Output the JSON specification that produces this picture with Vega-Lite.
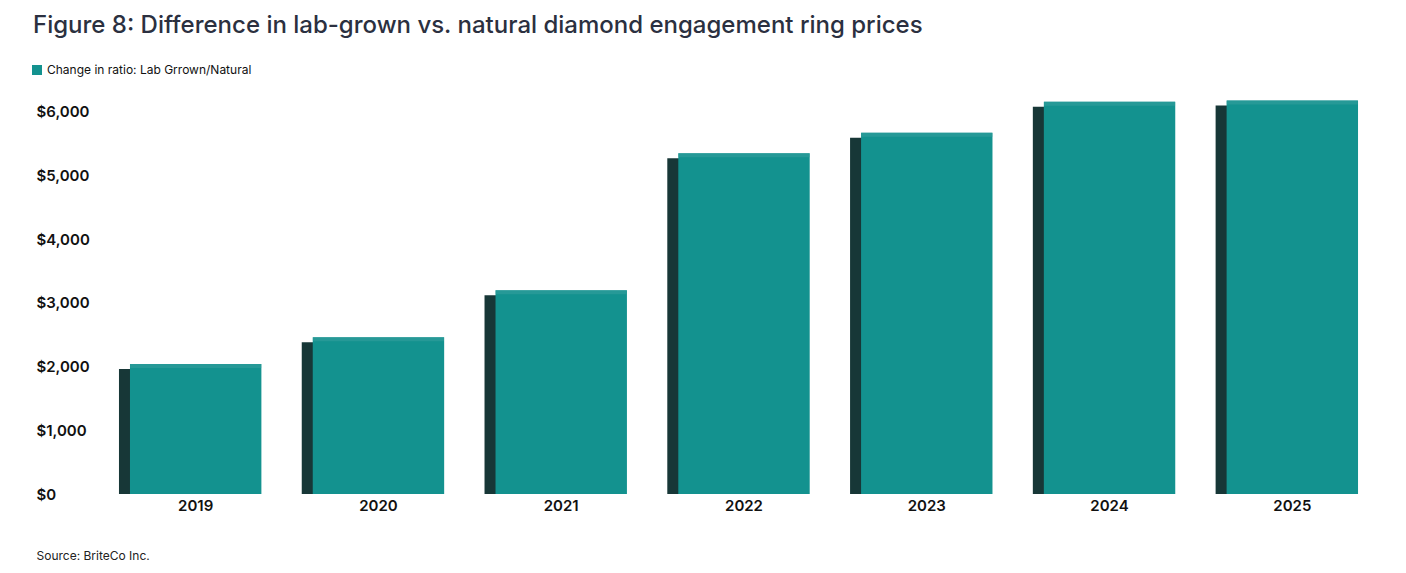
{
  "$schema": "https://vega.github.io/schema/vega-lite/v6.json",
  "autosize": {"type": "none"},
  "padding": {"left": 100, "top": 80, "right": 18, "bottom": 79},
  "width": 1288,
  "height": 414,
  "background": "white",
  "title": {
    "text": "Figure 8: Difference in lab-grown vs. natural diamond engagement ring prices",
    "anchor": "start",
    "frame": "group",
    "dx": -67,
    "offset": 26,
    "font": "Inter",
    "fontSize": 24,
    "fontWeight": 500,
    "color": "#2b3040"
  },
  "data": {
    "values": [
      {"year": "2019", "value": 2040},
      {"year": "2020", "value": 2460},
      {"year": "2021", "value": 3200},
      {"year": "2022", "value": 5350},
      {"year": "2023", "value": 5670},
      {"year": "2024", "value": 6160},
      {"year": "2025", "value": 6180}
    ]
  },
  "encoding": {
    "x": {
      "field": "year",
      "type": "ordinal",
      "scale": {"paddingInner": 0.281, "paddingOuter": 0.164},
      "axis": {
        "labelAngle": 0,
        "domain": false,
        "ticks": false,
        "tickSize": 0,
        "labelPadding": 4,
        "labelFont": "Inter",
        "labelFontSize": 15,
        "labelFontWeight": 600,
        "labelColor": "#111111",
        "title": "Source: BriteCo Inc.",
        "titleFont": "Inter",
        "titleFontSize": 12,
        "titleFontWeight": 400,
        "titleColor": "#222222",
        "titleAnchor": "start",
        "titleAlign": "left",
        "titleBaseline": "middle",
        "titleX": -64,
        "titleY": 61
      }
    },
    "y": {
      "field": "value",
      "type": "quantitative",
      "scale": {"domain": [0, 6500], "nice": false},
      "axis": {
        "values": [0, 1000, 2000, 3000, 4000, 5000, 6000],
        "format": "$,.0f",
        "grid": false,
        "domain": false,
        "ticks": false,
        "tickSize": 0,
        "labelAlign": "left",
        "labelBaseline": "middle",
        "labelPadding": 64,
        "labelFont": "Inter",
        "labelFontSize": 15,
        "labelFontWeight": 600,
        "labelColor": "#111111",
        "title": null
      }
    }
  },
  "layer": [
    {
      "mark": {"type": "bar", "color": "#173737", "xOffset": -11, "yOffset": 5, "y2Offset": 0},
      "encoding": {"y2": {"datum": 0}}
    },
    {
      "mark": {"type": "bar"},
      "encoding": {
        "color": {
          "datum": "Change in ratio: Lab Grrown/Natural",
          "scale": {"range": ["#13928f"]},
          "legend": {
            "orient": "none",
            "legendX": -69,
            "legendY": -16,
            "title": null,
            "symbolType": "square",
            "symbolSize": 100,
            "symbolStrokeWidth": 0,
            "labelFont": "Inter",
            "labelFontSize": 12,
            "labelColor": "#111111",
            "labelOffset": 4,
            "labelLimit": 500
          }
        }
      }
    },
    {
      "mark": {"type": "tick", "color": "#2f9c9a", "thickness": 4, "size": 131, "yOffset": 2}
    }
  ],
  "config": {
    "view": {"stroke": null}
  }
}
